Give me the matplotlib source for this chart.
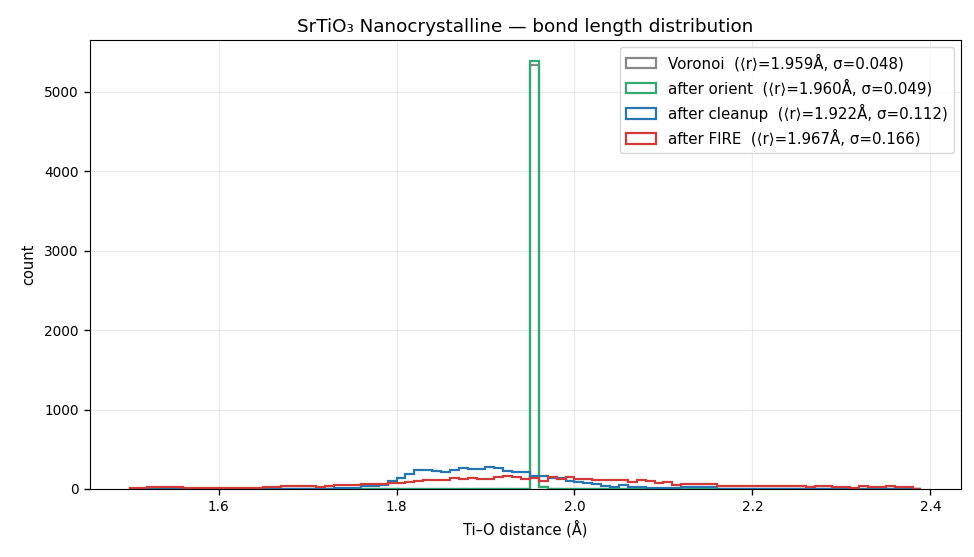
import numpy as np
import matplotlib
matplotlib.use('Agg')
import matplotlib.pyplot as plt

# bin edges for Ti-O distances (Å), 0.01 wide
bin_start = 1.50
bin_width = 0.01
n_bins = 89

# counts per bin
voronoi = [0] * 45 + [5340, 20] + [0] * 42
orient = [0] * 45 + [5380, 30] + [0] * 42
cleanup = [0, 0, 0, 0, 0, 0, 0, 0, 0, 0,
           3, 3, 3, 3, 3, 3, 3, 3, 3, 3,
           3, 3, 3, 15, 15, 15, 38, 38, 55, 95,
           139, 191, 240, 240, 228, 218, 240, 265, 254, 254,
           278, 265, 227, 214, 214, 164, 164, 135, 135, 95,
           88, 71, 59, 42, 29, 50, 29, 29, 17, 17,
           17, 17, 25, 25, 22, 22, 5, 5, 5, 5,
           5, 5, 5, 5, 5, 5, 0, 0, 0, 0,
           0, 0, 0, 0, 0, 0, 0, 0, 0]
fire = [10, 10, 20, 22, 20, 22, 10, 15, 15, 15,
        15, 15, 15, 15, 13, 29, 20, 34, 40, 32,
        42, 29, 38, 55, 55, 55, 67, 67, 67, 76,
        80, 82, 95, 117, 115, 117, 139, 128, 139, 128,
        126, 146, 160, 146, 126, 139, 105, 151, 126, 151,
        126, 126, 109, 109, 109, 109, 84, 109, 97, 71,
        88, 50, 63, 63, 63, 63, 34, 34, 34, 34,
        34, 34, 34, 34, 34, 42, 25, 42, 42, 29,
        29, 17, 34, 21, 21, 34, 21, 21, 0]

labels = ['Voronoi  (⟨r⟩=1.959Å, σ=0.048)',
          'after orient  (⟨r⟩=1.960Å, σ=0.049)',
          'after cleanup  (⟨r⟩=1.922Å, σ=0.112)',
          'after FIRE  (⟨r⟩=1.967Å, σ=0.166)']
colors = ['#888888', '#35a877', '#2677b0', '#d23a3a']

edges = bin_start + bin_width * np.arange(n_bins + 1)
centers = 0.5 * (edges[:-1] + edges[1:])

fig = plt.figure(figsize=(9.74, 5.57), dpi=100)
ax = fig.add_axes([0.0924, 0.1221, 0.8943, 0.8061])

for counts, lab, col in zip([voronoi, orient, cleanup, fire], labels, colors):
    ax.hist(centers, bins=edges, weights=counts, histtype='step',
            color=col, linewidth=1.6, label=lab)

ax.set_title('SrTiO₃ Nanocrystalline — bond length distribution', fontsize=13.2)
ax.set_xlabel('Ti–O distance (Å)', fontsize=10.5)
ax.set_ylabel('count', fontsize=10.5, labelpad=6)
ax.tick_params(labelsize=9.8, length=4.5, width=1)
ax.grid(True, alpha=0.25)
ax.legend(loc='upper right', fontsize=10.8)

fig.savefig('out.png', dpi=100)
